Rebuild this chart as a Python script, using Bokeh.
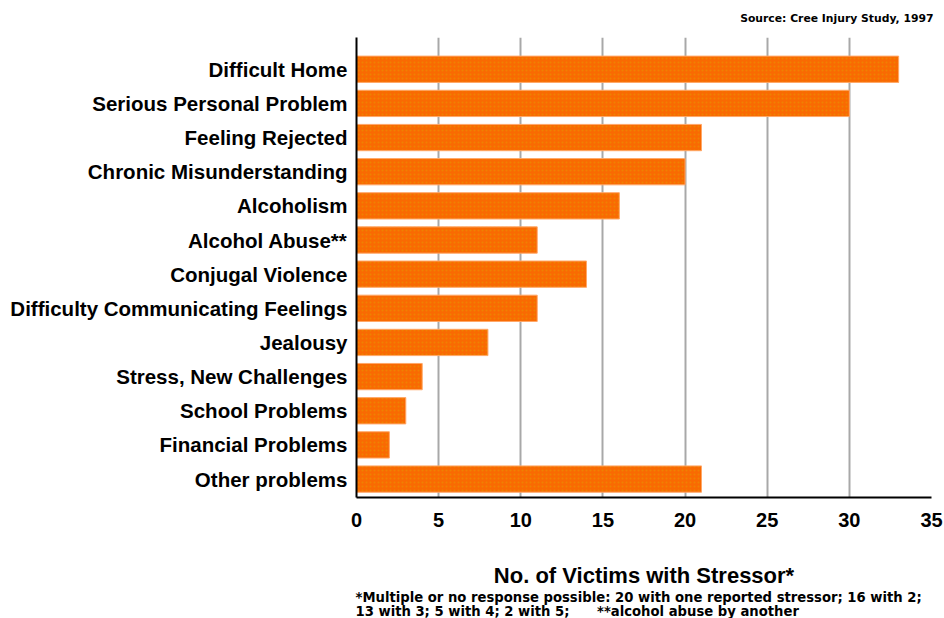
from bokeh.plotting import figure
from bokeh.models import Range1d, FixedTicker, Title, ColumnDataSource
from bokeh.embed import file_html
from bokeh.resources import INLINE

categories = [
    "Difficult Home",
    "Serious Personal Problem",
    "Feeling Rejected",
    "Chronic Misunderstanding",
    "Alcoholism",
    "Alcohol Abuse**",
    "Conjugal Violence",
    "Difficulty Communicating Feelings",
    "Jealousy",
    "Stress, New Challenges",
    "School Problems",
    "Financial Problems",
    "Other problems",
]
victims = [33, 30, 21, 20, 16, 11, 14, 11, 8, 4, 3, 2, 21]
x_ticks = [0, 5, 10, 15, 20, 25, 30, 35]

x_title = "No. of Victims with Stressor*"
source_note = "Source: Cree Injury Study, 1997"
footnote_1 = "*Multiple or no response possible: 20 with one reported stressor; 16 with 2;"
footnote_2 = "13 with 3; 5 with 4; 2 with 5;\u00a0\u00a0\u00a0\u00a0\u00a0 **alcohol abuse by another"

FONT = "Liberation Sans"
NOTE_FONT = "DejaVu Sans"
n = len(categories)
pos = list(range(n))

src = ColumnDataSource(dict(y=pos, v=victims, cat=categories))

W, H = 944, 618
p = figure(width=W, height=H, output_backend="svg", toolbar_location=None,
           x_range=Range1d(0, 35), y_range=Range1d(n - 1 + 0.54, -0.93))
p.min_border_left = 356
p.min_border_right = W - 931
p.min_border_top = 37
p.min_border_bottom = H - 500
p.outline_line_color = None
p.background_fill_color = "white"
p.border_fill_color = "white"

p.hbar(y="y", right="v", left=0, height=0.77, source=src,
       fill_color="#F96A02", line_color="#FFA868", line_width=1,
       hatch_pattern="dot", hatch_color="#E0A000", hatch_alpha=0.45, hatch_scale=4)

# grid
p.ygrid.grid_line_color = None
p.xgrid.ticker = FixedTicker(ticks=x_ticks)
p.xgrid.grid_line_color = "#A8A8A8"
p.xgrid.grid_line_width = 2
p.xgrid.level = "underlay"

# y axis
ya = p.yaxis[0]
ya.ticker = FixedTicker(ticks=pos)
ya.major_label_overrides = {i: c for i, c in zip(pos, categories)}
ya.major_label_text_font = FONT
ya.major_label_text_font_style = "bold"
ya.major_label_text_font_size = "20.5px"
ya.major_label_text_color = "black"
ya.major_tick_line_color = None
ya.minor_tick_line_color = None
ya.major_label_standoff = 3
ya.axis_line_color = "black"
ya.axis_line_width = 2

# x axis
xa = p.xaxis[0]
xa.ticker = FixedTicker(ticks=x_ticks)
xa.major_label_text_font = FONT
xa.major_label_text_font_style = "bold"
xa.major_label_text_font_size = "20px"
xa.major_label_text_color = "black"
xa.major_tick_line_color = None
xa.minor_tick_line_color = None
xa.major_label_standoff = 9
xa.axis_line_color = "black"
xa.axis_line_width = 2
xa.axis_label = x_title
xa.axis_label_text_font = FONT
xa.axis_label_text_font_style = "bold"
xa.axis_label_text_font_size = "22px"
xa.axis_label_text_color = "black"
xa.axis_label_standoff = 33

src_title = Title(text=source_note, align="right", vertical_align="top", offset=-2,
                  text_font=NOTE_FONT, text_font_style="bold",
                  text_font_size="10.8px", text_color="black", standoff=21)
p.add_layout(src_title, "above")

for t, s in ((footnote_1, -6), (footnote_2, 0)):
    p.add_layout(Title(text=t, align="left", text_font=NOTE_FONT, text_font_style="bold",
                       text_font_size="13.2px", text_color="black", standoff=s,
                       offset=-1), "below")

open("out.html", "w").write(file_html(p, INLINE))
